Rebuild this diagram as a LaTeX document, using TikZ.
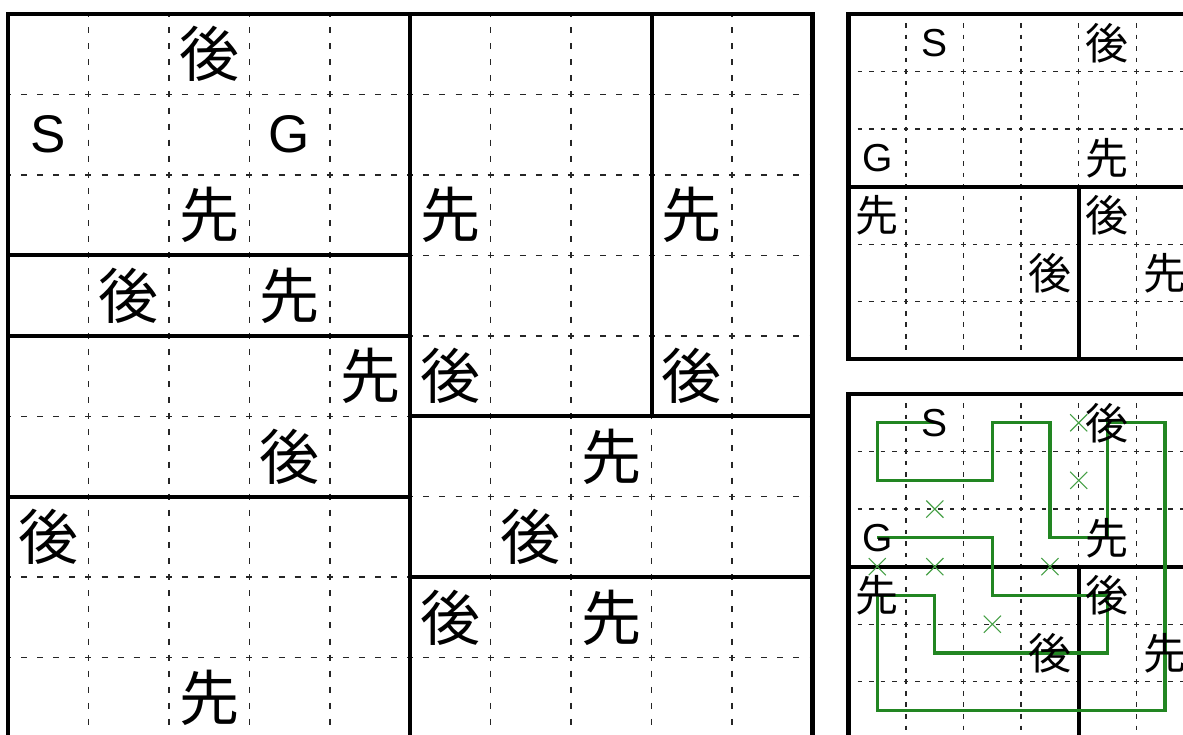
\documentclass[tikz,border=0pt]{standalone}
\usepackage{fontspec}
\setmainfont{Liberation Sans}
\newfontfamily\jpfont{Noto Sans CJK JP}
\usetikzlibrary{shapes.misc}
\definecolor{routegreen}{RGB}{34,134,34}
\definecolor{markgreen}{RGB}{70,160,70}
\pgfdeclarelayer{gridlayer}
\pgfdeclarelayer{routelayer}
\pgfsetlayers{gridlayer,routelayer,main}
\tikzset{
  thk/.style={line width=4.2pt, line join=miter},
  dsL/.style={line width=1.5pt, black!85, dash pattern=on 6pt off 10.09pt, dash phase=3pt},
  dsR/.style={line width=1.4pt, black!85, dash pattern=on 4.6pt off 6.91pt, dash phase=2.3pt},
  kjL/.style={inner sep=0pt, font=\fontsize{60}{60}\selectfont\jpfont},
  ltL/.style={inner sep=0pt, font=\fontsize{53}{53}\selectfont},
  kjR/.style={inner sep=0pt, font=\fontsize{43}{43}\selectfont\jpfont},
  ltR/.style={inner sep=0pt, font=\fontsize{39}{39}\selectfont},
  route/.style={line width=3.2pt, routegreen, line join=miter},
  xmark/.style={cross out, draw=markgreen, line width=1.1pt, minimum size=16pt, inner sep=0pt},
}
\begin{document}
\begin{tikzpicture}
\useasboundingbox (0,0) rectangle (1183pt,-734pt);
\begin{pgfonlayer}{gridlayer}
\fill[white] (0,0) rectangle (1183pt,-734pt);
\end{pgfonlayer}

% ---------------- left grid ----------------
\begin{scope}[shift={(8pt,-14pt)}, x=80.45pt, y=-80.45pt]
  \begin{pgfonlayer}{gridlayer}
  \foreach \i in {1,...,9} \draw[dsL] (\i,0) -- (\i,10);
  \foreach \j in {1,...,9} \draw[dsL] (0,\j) -- (10,\j);
  \draw[thk] (0,10) -- (0,0) -- (10,0) -- (10,10);
  \draw[thk] (5,0) -- (5,10);
  \draw[thk] (0,3) -- (5,3);
  \draw[thk] (0,4) -- (5,4);
  \draw[thk] (0,6) -- (5,6);
  \draw[thk] (8,0) -- (8,5);
  \draw[thk] (5,5) -- (10,5);
  \draw[thk] (5,7) -- (10,7);
  \end{pgfonlayer}
  \foreach \c/\r/\t in {2/0/後,2/2/先,5/2/先,8/2/先,1/3/後,3/3/先,4/4/先,5/4/後,8/4/後,3/5/後,7/5/先,0/6/後,6/6/後,5/7/後,7/7/先,2/8/先}
    \node[kjL] (L-\c-\r) at (\c+0.5,\r+0.5) {\t};
  \node[ltL] (L-S) at (0.5,1.5) {S};
  \node[ltL] (L-G) at (3.5,1.5) {G};
\end{scope}

% ---------------- top right grid ----------------
\begin{scope}[shift={(848.5pt,-14pt)}, x=57.55pt, y=-57.55pt]
  \begin{pgfonlayer}{gridlayer}
  \foreach \i in {1,...,6} \draw[dsR] (\i,0) -- (\i,6);
  \foreach \j in {1,...,5} \draw[dsR] (0,\j) -- (7,\j);
  \draw[thk] (7,0) -- (0,0) -- (0,6) -- (7,6);
  \draw[thk] (0,3) -- (7,3);
  \draw[thk] (4,3) -- (4,6);
  \end{pgfonlayer}
  \foreach \c/\r/\t in {4/0/後,4/2/先,0/3/先,4/3/後,3/4/後,5/4/先}
    \node[kjR] (T-\c-\r) at (\c+0.5,\r+0.5) {\t};
  \node[ltR] (T-S) at (1.5,0.5) {S};
  \node[ltR] (T-G) at (0.5,2.5) {G};
\end{scope}

% ---------------- bottom right grid (solved) ----------------
\begin{scope}[shift={(848.5pt,-394pt)}, x=57.55pt, y=-57.55pt]
  \begin{pgfonlayer}{gridlayer}
  \foreach \i in {1,...,6} \draw[dsR] (\i,0) -- (\i,7);
  \foreach \j in {1,...,6} \draw[dsR] (0,\j) -- (7,\j);
  \draw[thk] (7,0) -- (0,0) -- (0,7);
  \draw[thk] (0,3) -- (7,3);
  \draw[thk] (4,3) -- (4,7);
  \end{pgfonlayer}
  \foreach \c/\r/\t in {4/0/後,4/2/先,0/3/先,4/3/後,3/4/後,5/4/先}
    \node[kjR] (B-\c-\r) at (\c+0.5,\r+0.5) {\t};
  \node[ltR] (B-S) at (1.5,0.5) {S};
  \node[ltR] (B-G) at (0.5,2.5) {G};
  \foreach \c/\r in {0/0,0/1,2/1,2/0,3/0,3/2,5/0,5/5,0/5,1/3,1/4,4/4,2/3,2/2}
    \coordinate (P-\c-\r) at (\c+0.5,\r+0.5);
  \begin{pgfonlayer}{routelayer}
  \draw[route] (B-S.center) -- (P-0-0) -- (P-0-1) -- (P-2-1) -- (P-2-0) -- (P-3-0)
    -- (P-3-2) -- (B-4-2.center) -- (B-4-0.center) -- (P-5-0) -- (P-5-5) -- (P-0-5)
    -- (B-0-3.center) -- (P-1-3) -- (P-1-4) -- (P-4-4) -- (B-4-3.center) -- (P-2-3)
    -- (P-2-2) -- (B-G.center);
  \node[xmark] (X1) at (4,0.5) {};
  \node[xmark] (X2) at (4,1.5) {};
  \node[xmark] (X3) at (1.5,2) {};
  \node[xmark] (X4) at (0.5,3) {};
  \node[xmark] (X5) at (1.5,3) {};
  \node[xmark] (X6) at (3.5,3) {};
  \node[xmark] (X7) at (2.5,4) {};
  \end{pgfonlayer}
\end{scope}
\end{tikzpicture}
\end{document}
